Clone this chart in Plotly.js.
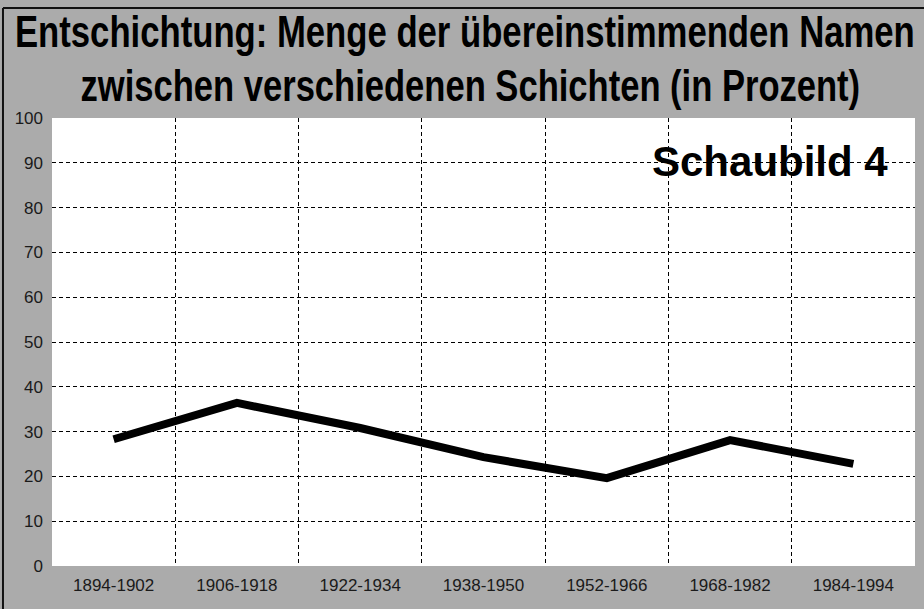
<!DOCTYPE html>
<html>
<head>
<meta charset="utf-8">
<script src="https://cdn.plot.ly/plotly-3.0.1.min.js"></script>
<style>html,body{margin:0;padding:0;background:#ababab;}#chart{width:924px;height:609px;}</style>
</head>
<body>
<div id="chart"></div>
<script>
const periods = ["1894-1902","1906-1918","1922-1934","1938-1950","1952-1966","1968-1982","1984-1994"];
const shares = [28.3, 36.4, 30.8, 24.3, 19.6, 28.1, 22.8];
const yTicks = [0,10,20,30,40,50,60,70,80,90,100];
const titleLine1 = "Entschichtung: Menge der übereinstimmenden Namen";
const titleLine2 = "zwischen verschiedenen Schichten (in Prozent)";
const badge = "Schaubild 4";

const sans = "Liberation Sans, Arial, sans-serif";

const trace = {
  type: "scatter",
  mode: "lines",
  x: periods,
  y: shares,
  line: {color: "#000", width: 8, shape: "linear"},
  hoverinfo: "x+y"
};

const layout = {
  width: 924, height: 609,
  paper_bgcolor: "#ababab",
  plot_bgcolor: "#ffffff",
  margin: {l: 52, r: 9, t: 118, b: 43},
  showlegend: false,
  xaxis: {
    type: "category",
    range: [-0.5, 6.5],
    tickson: "boundaries",
    ticks: "",
    showgrid: true, gridcolor: "#000", gridwidth: 1, griddash: "4px,3px",
    showline: false, zeroline: false,
    tickfont: {family: sans, size: 17, color: "#1a1a1a"},
    ticklabelstandoff: 7,
    fixedrange: true
  },
  yaxis: {
    range: [0, 100],
    tickvals: yTicks,
    ticks: "",
    showgrid: true, gridcolor: "#000", gridwidth: 1, griddash: "4px,3px",
    showline: false, zeroline: false,
    tickfont: {family: sans, size: 17, color: "#1a1a1a"},
    ticklabelstandoff: 8,
    fixedrange: true
  },
  annotations: [
    {
      text: "<b>" + titleLine1 + "</b>", xref: "paper", yref: "paper", x: 0.4786, y: 1.194,
      xanchor: "center", yanchor: "middle", showarrow: false,
      font: {family: sans, size: 44, color: "#000"}
    },
    {
      text: "<b>" + titleLine2 + "</b>", xref: "paper", yref: "paper", x: 0.4844, y: 1.072,
      xanchor: "center", yanchor: "middle", showarrow: false,
      font: {family: sans, size: 44, color: "#000"}
    },
    {
      text: "<b>" + badge + "</b>", xref: "paper", yref: "paper", x: 0.832, y: 0.902,
      xanchor: "center", yanchor: "middle", showarrow: false,
      font: {family: sans, size: 42, color: "#000"}
    }
  ],
  shapes: [
    {type: "line", xref: "paper", yref: "paper", x0: -0.0568, x1: -0.0568, y0: -0.1, y1: 1.2455,
     line: {color: "#111", width: 2}},
    {type: "line", xref: "paper", yref: "paper", x0: -0.0568, x1: 1.02, y0: 1.2455, y1: 1.2455,
     line: {color: "#111", width: 2}}
  ]
};

// condense the title lines horizontally to mimic the condensed typeface of the original
const targetWidths = {};
targetWidths[titleLine1] = 900;
targetWidths[titleLine2] = 780;

Plotly.newPlot("chart", [trace], layout, {displayModeBar: false, staticPlot: true}).then(function () {
  document.querySelectorAll("#chart .annotation-text").forEach(function (t) {
    const w = targetWidths[t.textContent];
    if (!w) return;
    const bb = t.getBBox();
    const s = w / bb.width;
    const cx = bb.x + bb.width / 2;
    t.setAttribute("transform", "translate(" + cx + ",0) scale(" + s + ",1) translate(" + (-cx) + ",0)");
  });
});
</script>
</body>
</html>
